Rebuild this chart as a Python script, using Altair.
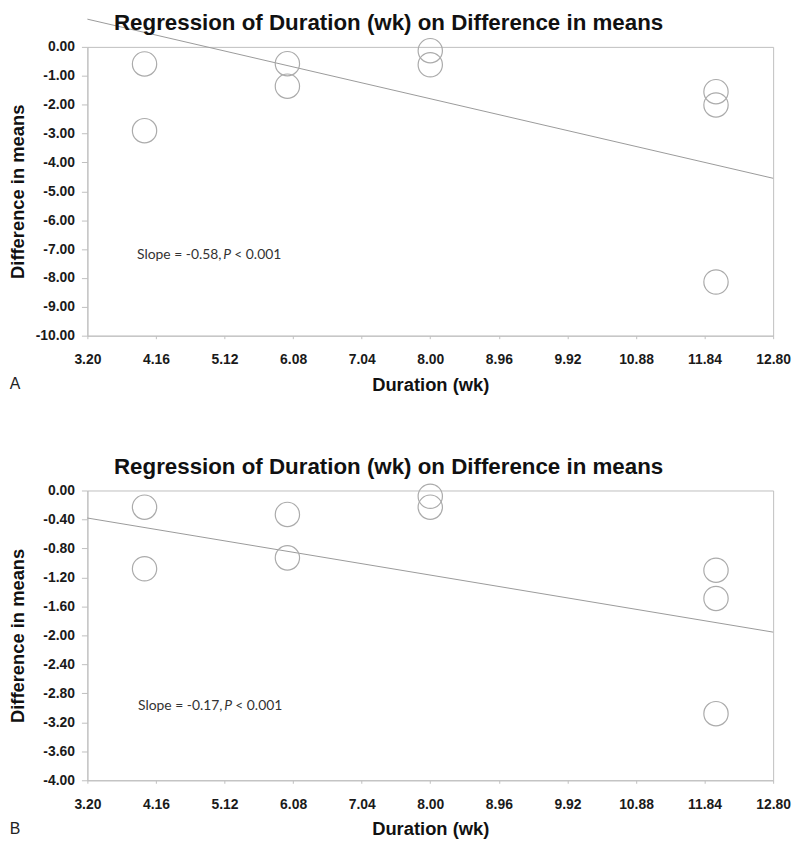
import altair as alt
import pandas as pd

# ---- data ----
duration_wk = [4, 4, 6, 6, 8, 8, 12, 12, 12]
diff_a = [-0.59, -2.90, -0.58, -1.36, -0.13, -0.62, -1.55, -2.01, -8.14]
diff_b = [-0.23, -1.08, -0.33, -0.93, -0.08, -0.23, -1.10, -1.49, -3.08]

fit_x = [3.20, 12.80]
fit_a = [0.96, -4.55]
fit_b = [-0.38, -1.955]

x_ticks = [3.20, 4.16, 5.12, 6.08, 7.04, 8.00, 8.96, 9.92, 10.88, 11.84, 12.80]
y_ticks_a = [0, -1, -2, -3, -4, -5, -6, -7, -8, -9, -10]
y_ticks_b = [0, -0.4, -0.8, -1.2, -1.6, -2.0, -2.4, -2.8, -3.2, -3.6, -4.0]

slope_a = "-0.58"
slope_b = "-0.17"
note_a = (3.894, -7.19)
note_b = (3.908, -2.98)

TITLE = "Regression of Duration (wk) on Difference in means"
FONT = "Liberation Sans"
GRAY = "#bfbfbf"
W = 691


def panel(diffs, fit_y, yticks, ydomain, slope, note_xy, letter, height):
    pts = pd.DataFrame({"x": duration_wk, "y": diffs})
    fit = pd.DataFrame({"x": fit_x, "y": fit_y})
    note = pd.DataFrame({"x": [note_xy[0]], "y": [note_xy[1]]})

    xs = alt.Scale(domain=[3.2, 12.8], nice=False, zero=False)
    ys = alt.Scale(domain=ydomain, nice=False, zero=False)
    xaxis = alt.Axis(
        values=x_ticks, format=".2f", title="Duration (wk)", grid=False,
        tickSize=3, labelPadding=14, titlePadding=9, labelFlush=False,
    )
    yaxis = alt.Axis(
        values=yticks, grid=False, title="Difference in means",
        labelExpr="(datum.value < -0.0001 ? '-' : '') + format(abs(datum.value), '.2f')",
        tickSize=6, labelPadding=7, minExtent=53, maxExtent=53, titlePadding=7.5,
    )
    X = alt.X("x:Q", scale=xs, axis=xaxis)
    Y = alt.Y("y:Q", scale=ys, axis=yaxis)

    line = alt.Chart(fit).mark_line(color="#9a9a9a", strokeWidth=1, clip=False).encode(x=X, y=Y)
    circles = alt.Chart(pts).mark_point(
        shape="circle", size=600, filled=False, color="#ababab",
        strokeWidth=1.2, opacity=1, clip=False,
    ).encode(x=X, y=Y)

    txt = dict(baseline="middle", font="Lato", fontSize=14, color="#333333", align="left")
    t1 = alt.Chart(note).mark_text(text=f"Slope = {slope},", **txt).encode(x=X, y=Y)
    t2 = alt.Chart(note).mark_text(text="P", fontStyle="italic", dx=87, **txt).encode(x=X, y=Y)
    t3 = alt.Chart(note).mark_text(text="< 0.001", dx=98, **txt).encode(x=X, y=Y)

    lab = alt.Chart(note).mark_text(
        text=letter, font=FONT, fontSize=16, color="#222222",
        align="center", baseline="middle",
    ).encode(x=alt.value(-73), y=alt.value(height + 49))

    ttl = alt.Chart(note).mark_text(
        text=TITLE, font=FONT, fontSize=22.5, fontWeight="bold", color="#111111",
        align="center", baseline="top",
    ).encode(x=alt.value(W / 2 - 42), y=alt.value(-35))

    return alt.layer(line, circles, t1, t2, t3, lab, ttl).properties(
        width=W, height=height,
    )


pa = panel(diff_a, fit_a, y_ticks_a, [-10, 0], slope_a, note_a, "A", 291)
pb = panel(diff_b, fit_b, y_ticks_b, [-4, 0], slope_b, note_b, "B", 292)

chart = alt.vconcat(pa, pb, spacing=61).properties(
    padding={"left": 0, "top": 0, "right": 0, "bottom": 0}
).configure_view(
    stroke=GRAY, strokeWidth=1
).configure_axis(
    domainColor=GRAY, tickColor=GRAY, labelFont=FONT, labelFontSize=14,
    labelFontWeight="bold", labelColor="#1a1a1a", titleFont=FONT,
    titleFontSize=18.5, titleFontWeight="bold", titleColor="#111111",
)

chart.save("out.html", embed_options={"renderer": "svg", "actions": False})
